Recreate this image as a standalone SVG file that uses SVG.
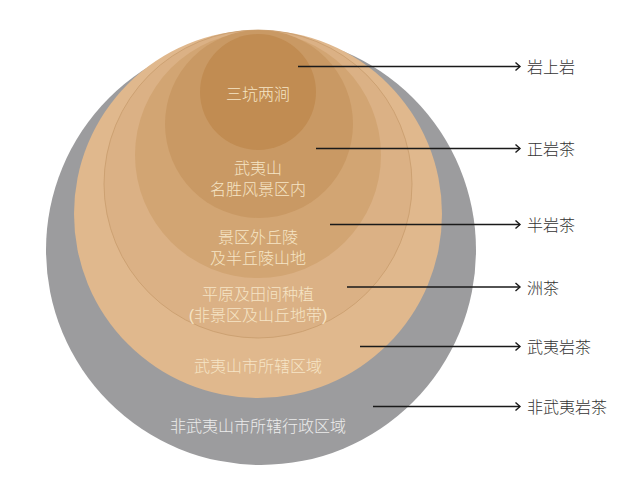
<svg xmlns="http://www.w3.org/2000/svg" width="640" height="482" viewBox="0 0 640 482">
<defs>
<style>
.lbl{font-family:"Liberation Sans","Noto Sans CJK SC",sans-serif;font-size:16px;font-weight:300;fill:#f6e5c6;text-anchor:middle}
.gl{fill:#ececec}
.out{font-family:"Liberation Sans","Noto Sans CJK SC",sans-serif;font-size:16px;font-weight:300;fill:#333333}
.con{stroke:#1a1a1a;stroke-width:1.5;fill:none;marker-end:url(#arr)}
</style>
<marker id="arr" markerUnits="userSpaceOnUse" markerWidth="10" markerHeight="12" refX="6" refY="5" orient="auto">
<path d="M1.5,1 L6,5 L1.5,9" fill="none" stroke="#1a1a1a" stroke-width="1.4"/>
</marker>
</defs>
<rect width="640" height="482" fill="#ffffff"/>
<g id="zone-non-wuyi">
<circle cx="261" cy="250" r="215" fill="#9c9c9e"/>
<text class="lbl gl" x="258" y="432">非武夷山市所辖行政区域</text>
</g>
<g id="zone-wuyi-city">
<circle cx="258" cy="214" r="184" fill="#e0b88d"/>
<text class="lbl" x="258" y="372">武夷山市所辖区域</text>
</g>
<g id="zone-plain">
<circle cx="258" cy="184" r="154" fill="#dbb185" stroke="#c89c6c" stroke-width="0.8"/>
<text class="lbl" x="258" y="300">平原及田间种植</text>
<text class="lbl" x="258" y="320.5">(非景区及山丘地带)</text>
</g>
<g id="zone-hills">
<circle cx="258" cy="155" r="123" fill="#d2a573"/>
<text class="lbl" x="258" y="243">景区外丘陵</text>
<text class="lbl" x="258" y="263.5">及半丘陵山地</text>
</g>
<g id="zone-scenic">
<circle cx="259" cy="124" r="94" fill="#c99964"/>
<text class="lbl" x="258" y="174">武夷山</text>
<text class="lbl" x="258" y="194.5">名胜风景区内</text>
</g>
<g id="zone-core">
<circle cx="258" cy="92" r="58" fill="#c18c52"/>
<text class="lbl" x="258" y="100">三坑两涧</text>
</g>
<g id="connectors">
<path class="con" d="M298,66.5 H520"/>
<path class="con" d="M316,148.5 H520"/>
<path class="con" d="M330,224.5 H520"/>
<path class="con" d="M347,287 H520"/>
<path class="con" d="M360,346.5 H520"/>
<path class="con" d="M373,406.5 H520"/>
</g>
<g id="labels">
<text class="out" x="527" y="73">岩上岩</text>
<text class="out" x="527" y="155">正岩茶</text>
<text class="out" x="527" y="231">半岩茶</text>
<text class="out" x="527" y="294">洲茶</text>
<text class="out" x="527" y="353">武夷岩茶</text>
<text class="out" x="527" y="413">非武夷岩茶</text>
</g>
</svg>
